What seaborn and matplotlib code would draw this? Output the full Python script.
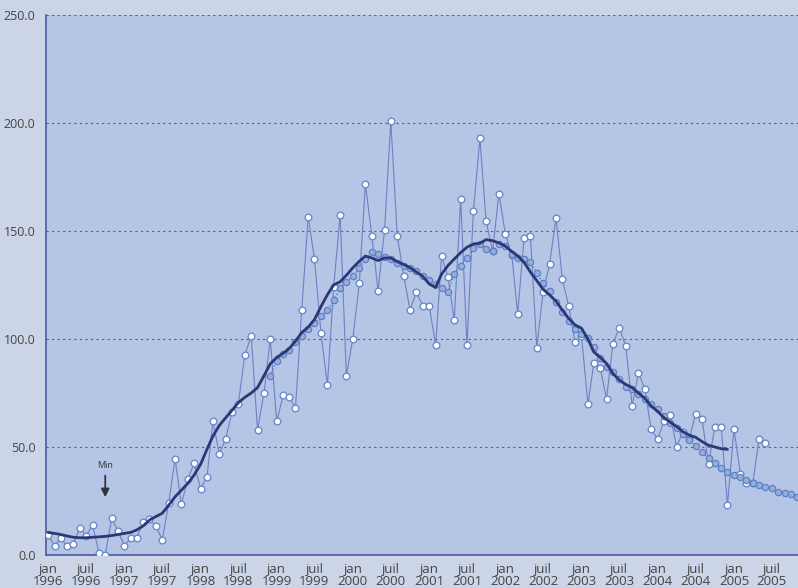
import pandas as pd
import seaborn as sns
import matplotlib.pyplot as plt
import matplotlib.dates as mdates
import matplotlib.ticker as mticker

# monthly values, jan 1996 -> jun 2005
monthly = [9.3, 4.3, 7.7, 4.3, 5.1, 12.6, 8.9, 13.9, 1.1, 0.0, 17.0, 11.1,
           4.2, 8.0, 8.0, 15.4, 16.5, 13.6, 6.9, 23.9, 44.4, 23.5, 35.2, 42.4,
           30.7, 36.1, 61.9, 46.9, 53.7, 66.2, 69.9, 92.6, 101.4, 57.9, 74.9, 100.0,
           61.9, 73.9, 73.0, 68.1, 113.4, 156.6, 137.0, 102.9, 78.7, 123.9, 157.5, 83.0,
           100.2, 125.8, 171.9, 147.7, 122.4, 150.6, 200.8, 147.7, 129.3, 113.4, 121.6, 115.4,
           115.4, 97.2, 138.3, 128.7, 108.8, 164.8, 97.2, 159.3, 192.9, 154.5, 140.7, 167.3,
           148.8, 138.9, 111.7, 146.9, 147.8, 95.8, 121.8, 134.6, 156.0, 127.9, 115.1, 98.5,
           101.5, 69.9, 88.7, 86.4, 72.4, 97.7, 105.2, 96.8, 69.1, 84.4, 76.7, 58.2,
           53.6, 62.2, 64.8, 50.2, 56.8, 53.9, 65.3, 63.0, 42.0, 59.1, 59.1, 23.1,
           58.3, 37.5, 33.2, 33.2, 53.6, 52.0]

# smoothed values, jan 1996 -> dec 2004
smoothed = [10.5, 10.0, 9.5, 8.8, 8.2, 8.0, 8.0, 8.2, 8.4, 8.6, 9.0, 9.5,
            10.0, 10.5, 11.6, 13.5, 16.2, 17.8, 19.3, 23.0, 27.0, 30.0, 33.2, 37.0,
            42.0, 49.0, 55.0, 60.0, 63.5, 67.0, 70.5, 73.0, 75.0, 77.5, 83.0, 88.5,
            91.5, 93.4, 95.5, 99.0, 103.0, 105.5, 109.0, 115.0, 120.5, 125.0, 126.5, 129.5,
            133.0, 136.0, 138.4, 137.5, 136.3, 137.5, 137.5, 135.8, 134.5, 133.0, 131.0, 129.0,
            125.5, 123.8, 130.0, 134.0, 137.0, 140.0, 142.5, 144.0, 144.3, 146.0, 145.5, 144.5,
            143.0, 140.5, 138.5, 135.5, 131.0, 127.0, 123.0, 120.4, 117.5, 113.4, 109.5, 106.5,
            105.0, 100.0, 94.0, 91.5, 88.7, 84.0, 81.0, 79.0, 77.5, 75.0, 72.5, 69.0,
            66.5, 63.5, 61.5, 59.5, 57.1, 55.5, 54.5, 52.5, 50.8, 50.0, 49.2, 48.9]

# predicted values, dec 1998 -> nov 2005
predicted = [83.0,
             90.0, 93.0, 95.0, 98.7, 101.5, 104.5, 107.3, 110.5, 113.4, 118.1, 123.5, 126.5,
             129.2, 132.7, 136.9, 140.4, 139.4, 137.8, 136.9, 135.3, 134.0, 132.7, 131.6, 129.2,
             127.3, 125.5, 123.5, 121.6, 130.0, 134.0, 137.3, 142.0, 143.8, 141.7, 140.9, 144.0,
             143.0, 139.4, 137.3, 136.9, 135.5, 130.7, 125.8, 122.2, 117.3, 112.6, 108.5, 104.5,
             102.3, 100.3, 96.4, 91.0, 87.2, 84.9, 81.3, 77.9, 76.7, 74.5, 72.1, 69.9,
             67.4, 64.4, 61.3, 58.6, 56.0, 53.2, 50.6, 47.5, 45.0, 42.7, 40.4, 38.6,
             37.0, 36.1, 34.7, 33.5, 32.4, 31.6, 30.9, 29.3, 28.8, 28.1, 27.0]

month_names = {1: "jan", 7: "juil"}
y_ticks = [0, 50, 100, 150, 200, 250]

monthly_dates = pd.date_range("1996-01-01", periods=len(monthly), freq="MS")
smoothed_dates = pd.date_range("1996-01-01", periods=len(smoothed), freq="MS")
predicted_dates = pd.date_range("1998-12-01", periods=len(predicted), freq="MS")

sns.set_style("white", {"axes.facecolor": "#b5c5e6", "figure.facecolor": "#cbd5e7"})
plt.rcParams["font.family"] = ["Open Sans", "DejaVu Sans"]

fig = plt.figure(figsize=(7.98, 5.88), dpi=100)
ax = fig.add_axes([46 / 798, 1 - 555 / 588, 752 / 798, 540 / 588])

sns.lineplot(x=monthly_dates, y=monthly, ax=ax, color="#6a82c2", linewidth=0.8,
             marker="o", markersize=4.8, markerfacecolor="white",
             markeredgecolor="#6a8acb", markeredgewidth=1.0, zorder=3)
sns.lineplot(x=predicted_dates, y=predicted, ax=ax, color="#4d6db5", linewidth=0.9,
             linestyle=":", marker="o", markersize=4.5, markerfacecolor="#94aedd",
             markeredgecolor="#5f80c3", markeredgewidth=0.9, zorder=4)
sns.lineplot(x=smoothed_dates, y=smoothed, ax=ax, color="#2c3775", linewidth=2.0, zorder=5)

ax.set_ylim(0, 250)
ax.set_xlim(pd.Timestamp("1995-12-22"), pd.Timestamp("2005-11-04"))
ax.set_yticks(y_ticks)
ax.yaxis.set_major_formatter(mticker.FuncFormatter(lambda v, p: "%.1f" % v))

ax.xaxis.set_major_locator(mdates.MonthLocator(bymonth=[1, 7]))
ax.xaxis.set_minor_locator(mdates.MonthLocator(bymonth=[4, 10]))
ax.xaxis.set_major_formatter(mticker.FuncFormatter(
    lambda v, p: month_names[mdates.num2date(v).month] + "\n" + str(mdates.num2date(v).year)))

ax.set_xlabel("")
ax.set_ylabel("")
ax.grid(axis="y", linestyle=(0, (2, 3)), color="#5a6070", linewidth=0.8)
ax.set_axisbelow(True)

for s in ["top", "right"]:
    ax.spines[s].set_visible(False)
for s in ["left", "bottom"]:
    ax.spines[s].set_color("#4a5a9e")
    ax.spines[s].set_linewidth(1.2)

ax.tick_params(axis="both", which="both", direction="out", colors="#4a5a9e",
               labelcolor="#444444", labelsize=9, length=4, width=1)
ax.tick_params(axis="x", pad=2, labelsize=9.5)
plt.setp(ax.get_xticklabels(), linespacing=0.9)

ax.annotate("", xy=(pd.Timestamp("1996-10-01"), 25.5), xytext=(pd.Timestamp("1996-10-01"), 38),
            arrowprops=dict(arrowstyle="-|>", color="#333333", lw=1.3, mutation_scale=12))
ax.text(pd.Timestamp("1996-10-01"), 41.5, "Min", ha="center", va="center",
        fontsize=6.5, color="#333333")

plt.savefig("out.png", dpi=100, facecolor=fig.get_facecolor())
